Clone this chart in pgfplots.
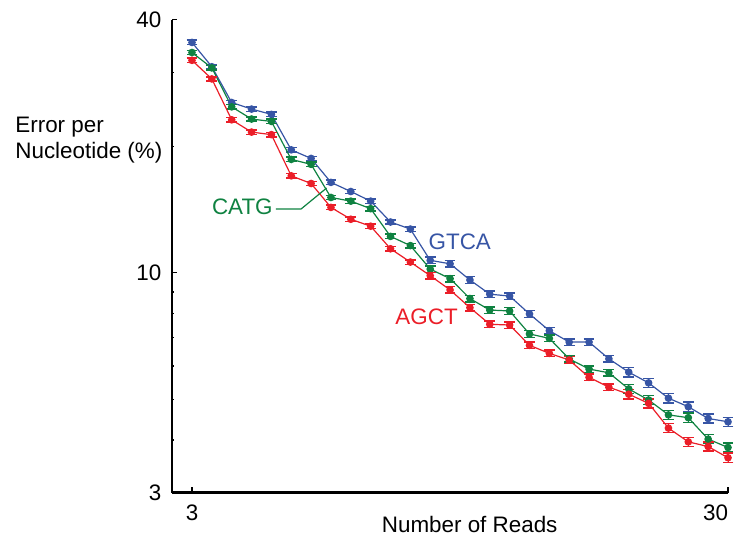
\documentclass[border=0pt]{standalone}
\usepackage{fontspec}
\setmainfont{Liberation Sans}
\usepackage{pgfplots}
\usepackage{pgfplotstable}
\pgfplotsset{compat=1.18}

\definecolor{cblue}{RGB}{55,85,165}
\definecolor{cgreen}{RGB}{15,130,65}
\definecolor{cred}{RGB}{235,30,40}

% reads, GTCA, CATG, AGCT, relative error
\pgfplotstableread{
n  b     g     r     e
3  35.3  33.4  32.0  0.012
4  30.9  30.7  28.9  0.012
5  25.4  24.8  23.1  0.012
6  24.5  23.2  21.6  0.012
7  23.8  22.9  21.3  0.012
8  19.6  18.6  17.0  0.012
9  18.7  18.1  16.3  0.012
10 16.4  15.1  14.3  0.012
11 15.6  14.8  13.4  0.012
12 14.8  14.2  12.9  0.012
13 13.2  12.2  11.4  0.012
14 12.7  11.6  10.6  0.012
15 10.7  10.2  9.84  0.018
16 10.5  9.68  9.10  0.018
17 9.61  8.68  8.26  0.018
18 8.89  8.15  7.54  0.018
19 8.80  8.11  7.51  0.018
20 7.98  7.15  6.72  0.018
21 7.28  6.98  6.43  0.018
22 6.84  6.24  6.20  0.018
23 6.84  5.90  5.64  0.018
24 6.24  5.78  5.34  0.018
25 5.80  5.29  5.14  0.025
26 5.47  4.98  4.89  0.025
27 5.03  4.59  4.27  0.025
28 4.80  4.52  3.96  0.025
29 4.50  4.02  3.86  0.025
30 4.42  3.84  3.63  0.025
}\reads

\begin{document}
\begin{tikzpicture}[font=\fontsize{11.2}{13}\selectfont]
\begin{axis}[
    scale only axis,
    width=277.9pt, height=236.45pt,
    xmin=2, xmax=30,
    ymode=log, ymin=3, ymax=40,
    axis x line=bottom, axis y line=left,
    axis line style={-, line width=1.35pt},
    tick align=inside,
    tick style={black, line width=0.6pt},
    major tick length=2.6pt, minor tick length=1.1pt,
    xtick={3,30}, xticklabels={3,{\makebox[0pt][r]{30}}},
    ytick={3,10,40}, yticklabels={3,10,40},
    minor ytick={4,5,6,7,8,9,20,30},
    /pgf/number format/assume math mode=true,
    xticklabel style={inner sep=0pt, anchor=north, yshift=-6.2pt},
    yticklabel style={inner sep=0pt, anchor=east, xshift=-5.2pt},
    clip=false,
    every axis plot/.append style={line width=0.6pt, mark=*, mark size=1.6pt,
        error bars/y dir=both, error bars/y explicit relative,
        error bars/error mark options={rotate=90, mark size=2.7pt, line width=0.75pt}},
]
\addplot[cblue]  table[x=n, y=b, y error=e] {\reads};
\addplot[cgreen] table[x=n, y=g, y error=e] {\reads};
\addplot[cred]   table[x=n, y=r, y error=e] {\reads};

\draw[cgreen, line width=0.6pt] (axis cs:7.23,14.17) -- (axis cs:8.49,14.17) -- (axis cs:9.78,15.9);
\node[cgreen, anchor=base west, inner sep=0pt] at (axis cs:3.99,13.72) {CATG};
\node[cblue, anchor=base west, inner sep=0pt] at (axis cs:14.90,11.37) {GTCA};
\node[cred, anchor=base west, inner sep=0pt] at (axis cs:13.23,7.54) {AGCT};

\node[anchor=base west, inner sep=0pt] at (rel axis cs:-0.2827,0.7617) {Error per};
\node[anchor=base west, inner sep=0pt] at (rel axis cs:-0.2827,0.7067) {Nucleotide (\%)};
\node[anchor=base, inner sep=0pt] at (rel axis cs:0.5353,-0.0846) {Number of Reads};

\coordinate (bl) at (rel axis cs:-0.3097,-0.0899);
\coordinate (tr) at (rel axis cs:1.0270,1.0414);
\end{axis}
\pgfresetboundingbox
\path[use as bounding box] (bl) rectangle (tr);
\end{tikzpicture}
\end{document}
